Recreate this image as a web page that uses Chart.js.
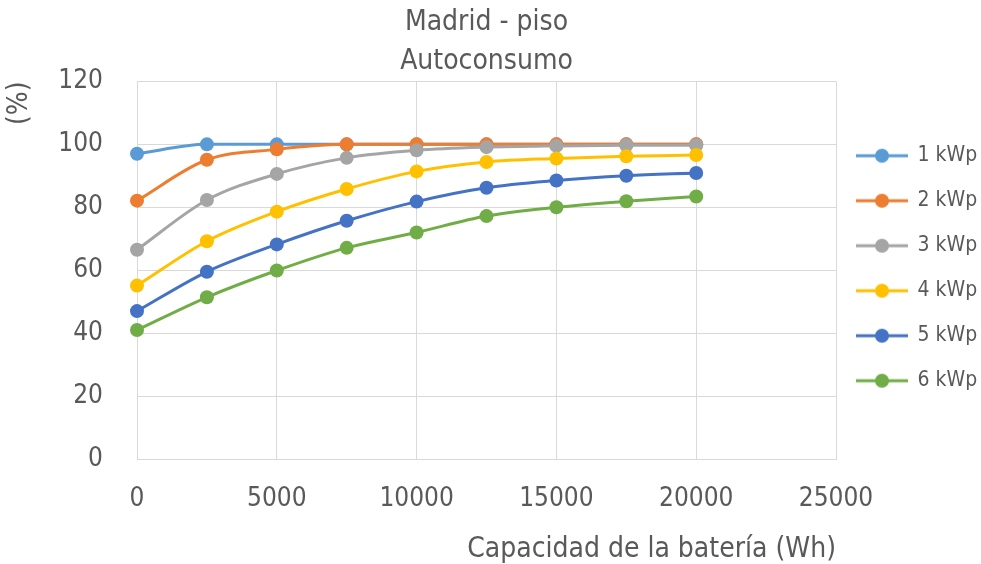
<!DOCTYPE html>
<html><head><meta charset="utf-8">
<script src="https://cdn.jsdelivr.net/npm/chart.js@4"></script>
<style>html,body{margin:0;padding:0;background:#fff}canvas{display:block}</style>
</head><body>
<canvas id="c" width="981" height="564"></canvas>
<script>
const capacities = [0, 2500, 5000, 7500, 10000, 12500, 15000, 17500, 20000];
const kwp1 = [97, 100, 100, 100, 100, 100, 100, 100, 100];
const kwp2 = [82.1, 95.1, 98.4, 100, 100, 100, 100, 100, 100];
const kwp3 = [66.5, 82.3, 90.6, 95.7, 98.1, 99.1, 99.5, 99.7, 99.7];
const kwp4 = [55.1, 69.2, 78.6, 85.8, 91.4, 94.4, 95.5, 96.2, 96.6];
const kwp5 = [47.0, 59.5, 68.2, 75.7, 81.8, 86.2, 88.5, 90.0, 90.9];
const kwp6 = [41.0, 51.4, 59.9, 67.1, 72.0, 77.2, 80.0, 81.9, 83.4];
const seriesNames = ['1 kWp', '2 kWp', '3 kWp', '4 kWp', '5 kWp', '6 kWp'];
const seriesColors = ['#5B9BD5', '#ED7D31', '#A5A5A5', '#FFC000', '#4472C4', '#70AD47'];
const titleLines = ['Madrid - piso', 'Autoconsumo'];
const xTitle = 'Capacidad de la batería (Wh)';
const yTitle = '(%)';

const FONT = "'Liberation Sans Narrow', 'DejaVu Sans Condensed', sans-serif";
const TXT = '#595959';
const allSeries = [kwp1, kwp2, kwp3, kwp4, kwp5, kwp6];

function legendIcon(color) {
  const c = document.createElement('canvas');
  c.width = 52; c.height = 16;
  const g = c.getContext('2d');
  g.strokeStyle = color; g.lineWidth = 3;
  g.beginPath(); g.moveTo(0, 8); g.lineTo(52, 8); g.stroke();
  g.fillStyle = color;
  g.beginPath(); g.arc(26, 8, 7, 0, Math.PI * 2); g.fill();
  return c;
}
const icons = seriesColors.map(legendIcon);

const datasets = allSeries.map((vals, i) => ({
  label: seriesNames[i],
  data: capacities.map((x, j) => ({x: x, y: vals[j]})),
  borderColor: seriesColors[i],
  backgroundColor: seriesColors[i],
  pointBackgroundColor: seriesColors[i],
  pointBorderColor: seriesColors[i],
  pointBorderWidth: 0,
  pointRadius: 7,
  borderWidth: 3,
  cubicInterpolationMode: 'monotone',
  clip: false,
  order: 10 - i
}));

Chart.defaults.font.family = FONT;
Chart.defaults.color = TXT;

const legendShift = {
  id: 'legendShift',
  afterLayout(chart) {
    if (chart.legend) {
      chart.legend.left = chart.chartArea.right - 3;
      chart.legend.top -= 2; chart.legend.bottom -= 2;
    }
  }
};

new Chart(document.getElementById('c'), {
  type: 'line',
  data: {datasets},
  plugins: [legendShift],
  options: {
    responsive: false,
    animation: false,
    layout: {padding: {left: 0, right: 0, top: 0, bottom: 0}},
    plugins: {
      tooltip: {enabled: false},
      title: {
        display: true,
        fullSize: false,
        text: titleLines,
        color: TXT,
        font: {family: FONT, size: 28, weight: 'normal', lineHeight: 1.4},
        padding: {top: 3, bottom: 0}
      },
      legend: {
        position: 'right',
        fullSize: false,
        maxWidth: 145,
        labels: {
          usePointStyle: true,
          pointStyleWidth: 50,
          boxHeight: 16,
          padding: 24,
          color: TXT,
          font: {family: FONT, size: 21},
          generateLabels: (chart) => chart.data.datasets.map((ds, i) => ({
            text: ds.label, pointStyle: icons[i], fontColor: TXT,
            hidden: false, datasetIndex: i, lineWidth: 0,
            strokeStyle: 'transparent', fillStyle: 'transparent'
          }))
        }
      }
    },
    scales: {
      x: {
        type: 'linear', min: 0, max: 25000,
        ticks: {stepSize: 5000, padding: 25, color: TXT, font: {size: 26},
                callback: (v) => String(v)},
        grid: {color: '#D9D9D9', drawTicks: false, lineWidth: 1},
        border: {color: '#D9D9D9'},
        title: {display: true, text: xTitle, align: 'end', color: TXT,
                font: {size: 28, lineHeight: 1.0}, padding: {top: 0, bottom: 0}},
        afterFit: (s) => { s.height = 105; }
      },
      y: {
        min: 0, max: 120,
        ticks: {stepSize: 20, padding: 34, color: TXT, font: {size: 26}},
        grid: {color: '#D9D9D9', drawTicks: false, lineWidth: 1},
        border: {color: '#D9D9D9'},
        title: {display: true, text: yTitle, align: 'end', color: TXT,
                font: {size: 28, lineHeight: 1.0}, padding: {top: 6, bottom: 0}},
        afterFit: (s) => { s.width = 137; }
      }
    }
  }
});
</script>
</body></html>
